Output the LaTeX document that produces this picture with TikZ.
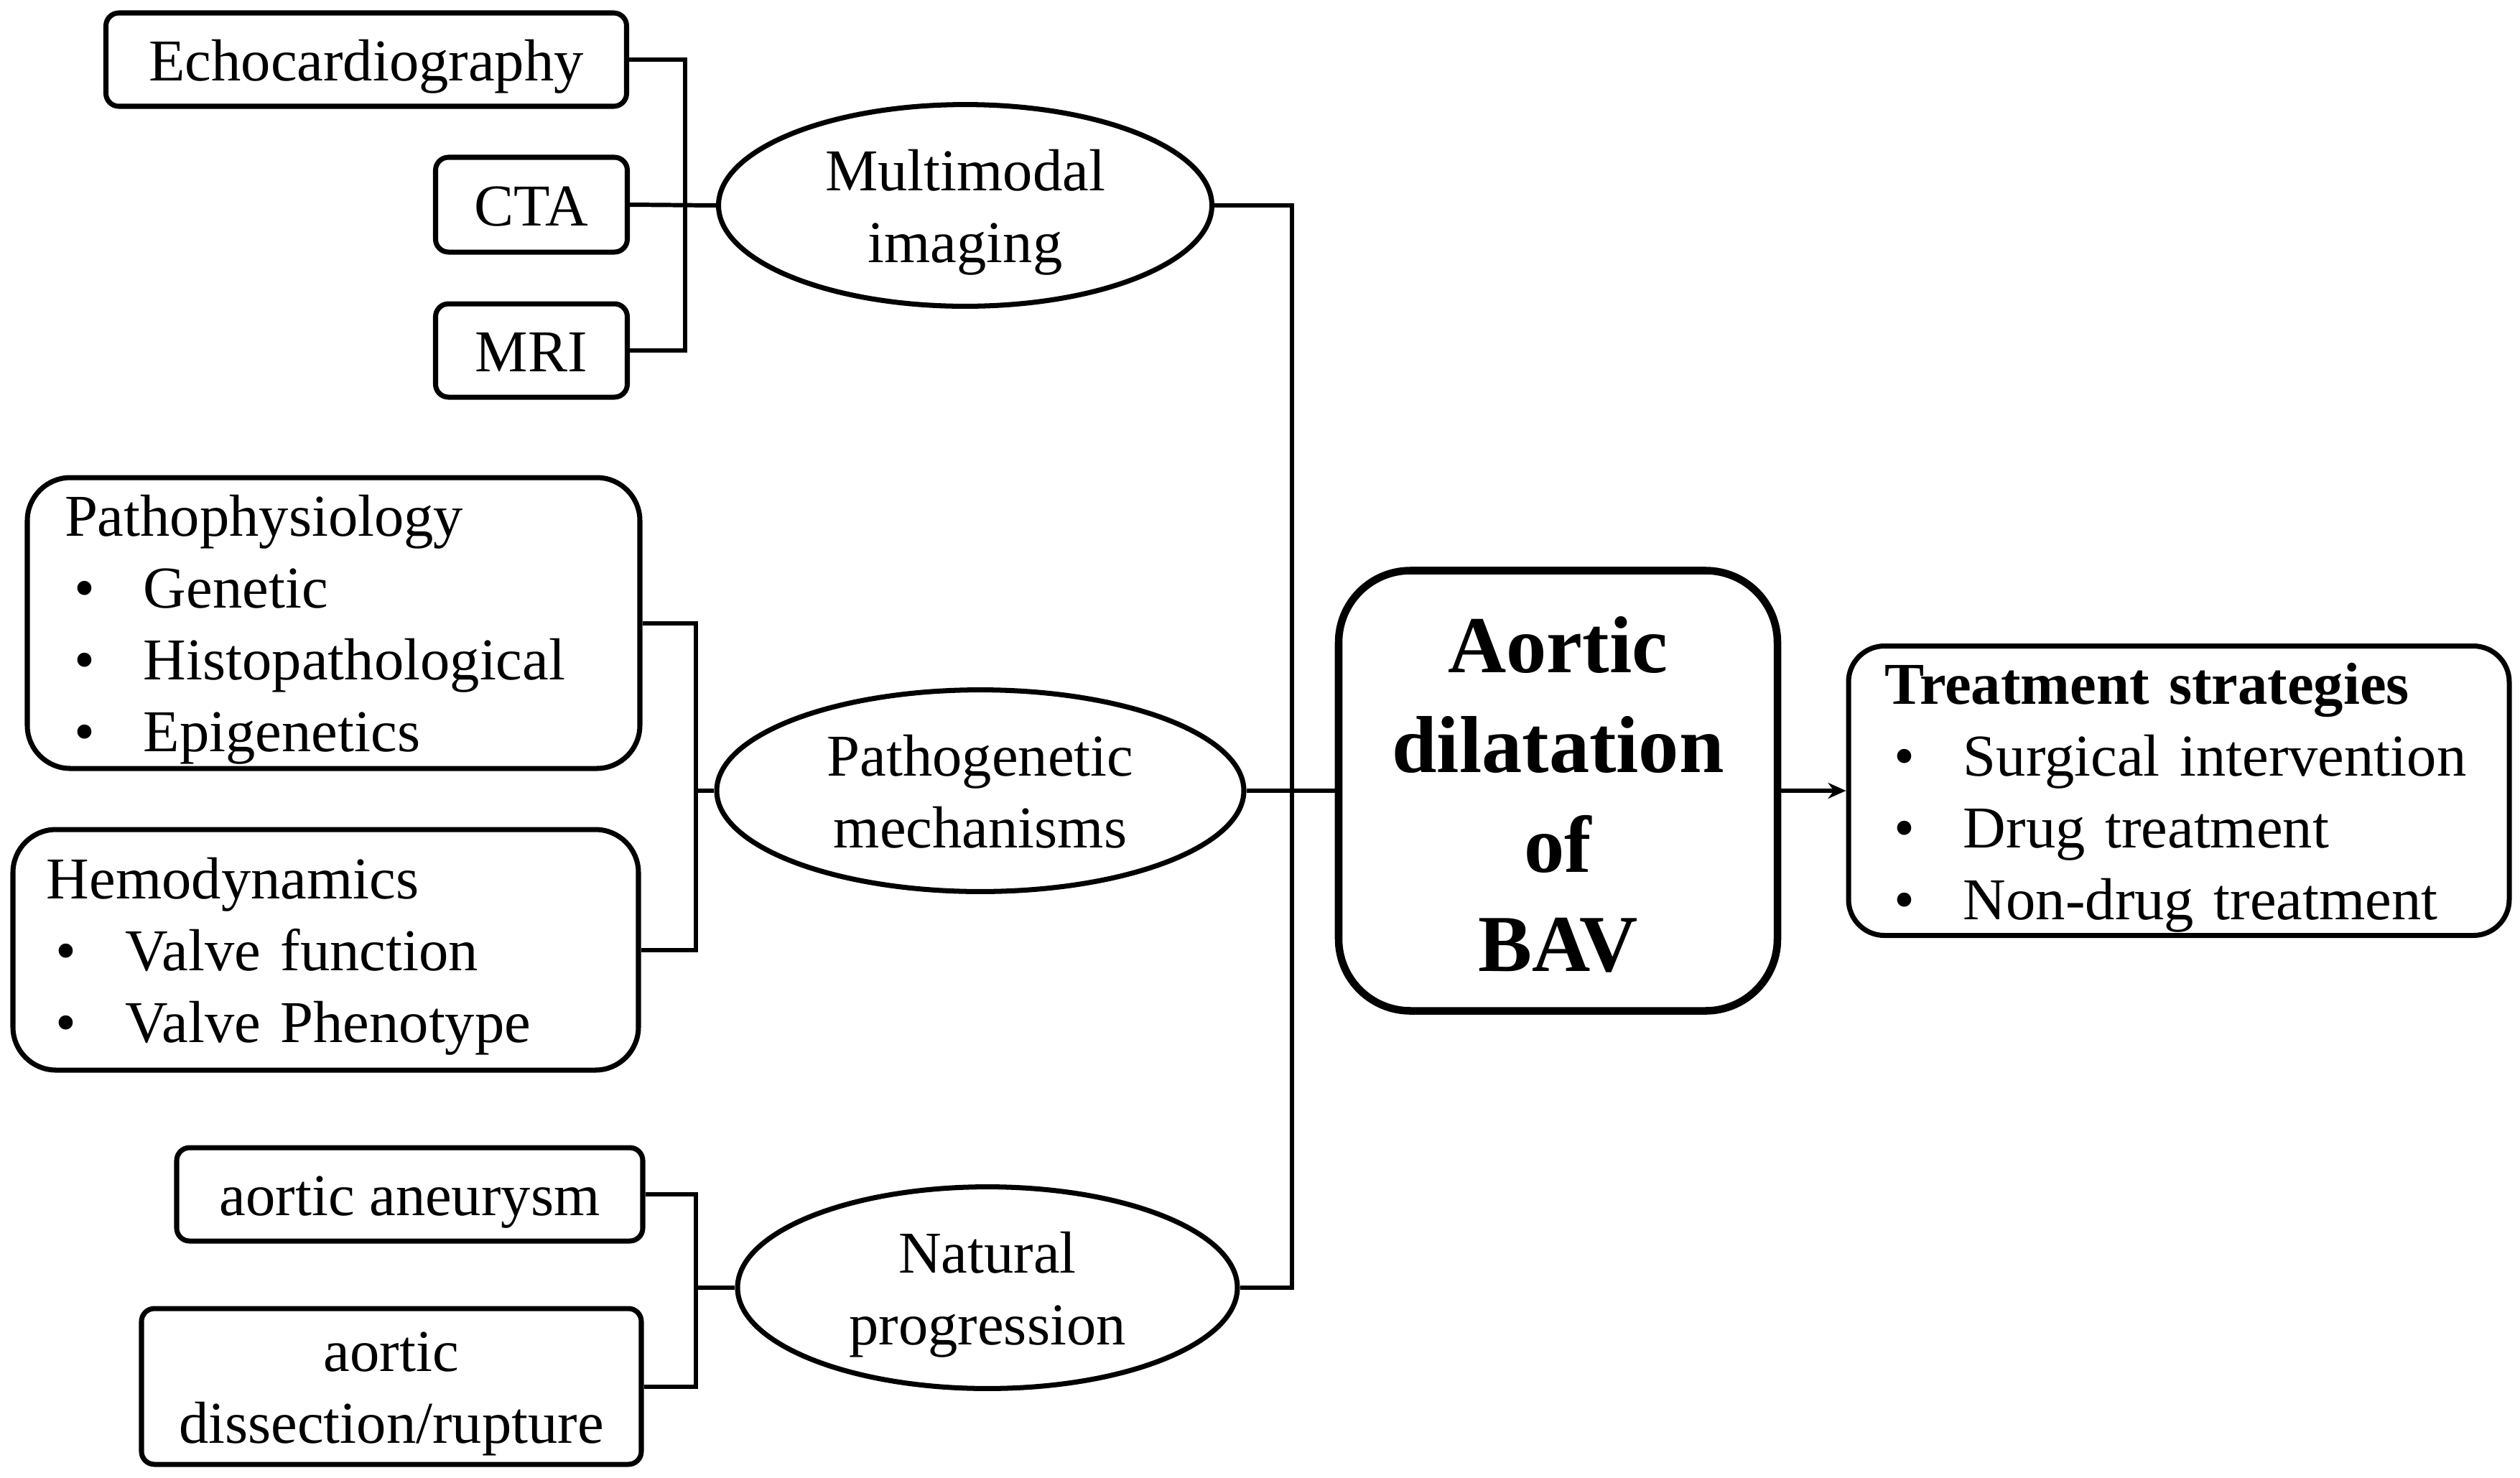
\documentclass[tikz,border=0pt]{standalone}
\usepackage{fontspec}
\setmainfont{Liberation Serif}
\usetikzlibrary{shapes.geometric,arrows.meta}
\newcommand\ts{\rule[-0.2cm]{0pt}{0.986cm}}
\newcommand\bitem[1]{\makebox[1.1cm][l]{\hspace{0.13cm}\textbullet}#1}
\tikzset{
 base/.style={font=\fontsize{23.5}{28.45}\selectfont},
 sbox/.style={draw, line width=2pt, rounded corners=0.18cm, inner sep=0pt, align=center, base},
 lbox/.style={draw, line width=2pt, rounded corners=0.6cm, inner ysep=0pt, align=left, base},
 oval/.style={draw, ellipse, line width=2pt, inner sep=0pt, align=center, base},
 conn/.style={line width=1.7pt},
}
\begin{document}
\begin{tikzpicture}
\useasboundingbox (0,0) rectangle (35.09,-20.57);
% imaging group
\node[sbox, minimum width=7.25cm, minimum height=1.30cm] (echo) at (5.10,-0.83) {\ts Echocardiography};
\node[sbox, minimum width=2.67cm, minimum height=1.32cm] (cta) at (7.40,-2.85) {\ts CTA};
\node[sbox, minimum width=2.67cm, minimum height=1.30cm] (mri) at (7.40,-4.88) {\ts MRI};
\node[oval, minimum width=6.87cm, minimum height=2.47cm] (mm) at (13.44,-2.86) {\ts Multimodal\\\ts imaging};
% pathogenetic group
\node[lbox, minimum height=4.05cm, inner xsep=0.52cm, text width=7.49cm] (patho) at (4.645,-8.675)
 {\ts Pathophysiology\\\bitem{Genetic}\\\bitem{Histopathological}\\\bitem{\ts Epigenetics}};
\node[lbox, minimum height=3.35cm, inner xsep=0.47cm, text width=7.77cm] (hemo) at (4.535,-13.225)
 {\ts Hemodynamics\\\bitem{Valve function}\\\bitem{\ts Valve Phenotype}};
\node[oval, minimum width=7.34cm, minimum height=2.46cm] (pg) at (13.65,-11.01) {\ts Pathogenetic\\\ts mechanisms};
% natural group
\node[sbox, minimum width=6.49cm, minimum height=1.30cm] (aneu) at (5.705,-16.63) {\ts aortic aneurysm};
\node[sbox, minimum width=6.96cm, minimum height=2.17cm] (diss) at (5.45,-19.305) {\ts aortic\\\ts dissection/rupture};
\node[oval, minimum width=6.96cm, minimum height=2.46cm] (ng) at (13.75,-17.93) {\ts Natural\\\ts progression};
% main
\node[draw, line width=3pt, rounded corners=1cm, minimum width=6.11cm, minimum height=6.13cm, align=center,
 font=\fontsize{32}{39.5}\selectfont\bfseries] (main) at (21.695,-11.01) {\rule{0pt}{0.89cm}Aortic\\dilatation\\of\\BAV};
\node[lbox, rounded corners=0.5cm, minimum height=4.03cm, inner xsep=0.5cm, text width=8.2cm] (treat) at (30.34,-11.01)
 {\ts\textbf{Treatment strategies}\\\bitem{Surgical intervention}\\\bitem{Drug treatment}\\\bitem{\ts Non-drug treatment}};
% connectors
\coordinate (trunk) at (17.99,0);
\draw[conn] (echo.east) -- ++(0.78,0) coordinate (ib) |- (mri.east);
\draw[conn] (cta.east) -- (mm.west);
\draw[conn] (patho.east) -- ++(0.74,0) coordinate (pb) |- (hemo.east);
\draw[conn] (pg.west) -- (pg.west -| pb);
\draw[conn] (aneu.east) -- ++(0.70,0) coordinate (nb) |- (diss.east);
\draw[conn] (ng.west) -- (ng.west -| nb);
\draw[conn] (mm.east) -- (mm.east -| trunk) -- (ng.east -| trunk) -- (ng.east);
\draw[conn] (pg.east) -- (main.west);
\draw[conn, -{Stealth[length=0.25cm,width=0.22cm]}] (main.east) -- (treat.west);
\end{tikzpicture}
\end{document}
